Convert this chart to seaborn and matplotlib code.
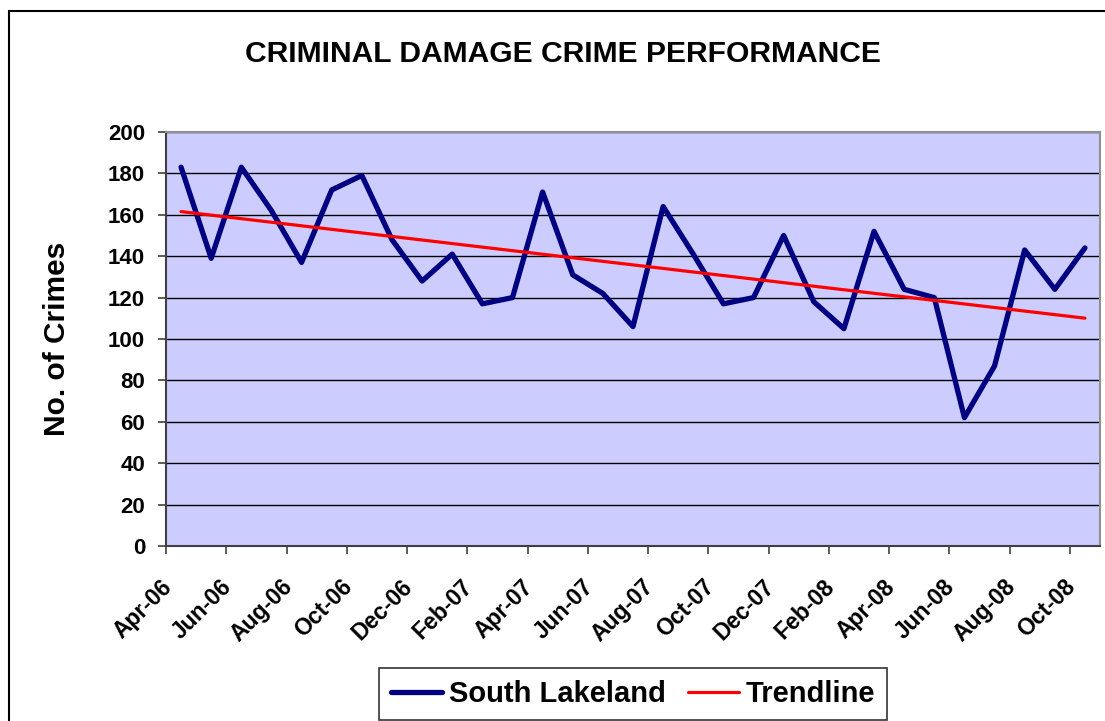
import numpy as np
import pandas as pd
import matplotlib
matplotlib.use("Agg")
import matplotlib.pyplot as plt
from matplotlib.patches import Rectangle
import seaborn as sns

# Monthly criminal damage crimes, South Lakeland (Apr-06 .. Oct-08)
months = pd.date_range("2006-04-01", "2008-10-01", freq="MS").strftime("%b-%y").tolist()
crimes = [183, 139, 183, 162, 137, 172, 179, 148, 128, 141, 117, 120, 171, 131, 122, 106,
          164, 141, 117, 120, 150, 118, 105, 152, 124, 120, 62, 87, 143, 124, 144]
y_ticks = [0, 20, 40, 60, 80, 100, 120, 140, 160, 180, 200]

# Excel style linear trendline
idx = np.arange(len(months))
slope, intercept = np.polyfit(idx, crimes, 1)
trend = intercept + slope * idx

df = pd.DataFrame({"idx": idx, "month": months, "crimes": crimes, "trend": trend})

sns.set_style("white")
plt.rcParams["font.family"] = ["Liberation Sans", "DejaVu Sans"]
plt.rcParams["font.weight"] = "bold"
for key in ["text.color", "axes.labelcolor", "xtick.color", "ytick.color"]:
    plt.rcParams[key] = "black"

W, H = 1105, 721
fig = plt.figure(figsize=(W / 100, H / 100), dpi=100)
ax = fig.add_axes([166 / W, 1 - 546 / H, 934 / W, 414 / H])
ax.set_facecolor("#CCCCFF")

sns.lineplot(data=df, x="idx", y="crimes", ax=ax, color="#000080", lw=3.8,
             label="South Lakeland", zorder=3)
sns.lineplot(data=df, x="idx", y="trend", ax=ax, color="#FF0000", lw=2.3,
             label="Trendline", zorder=4)

ax.set_xlim(-0.5, len(months) - 0.5)
ax.set_ylim(0, 200)
ax.set_yticks(y_ticks)
ax.set_yticklabels([str(v) for v in y_ticks], fontsize=16, fontweight="bold")
ax.yaxis.grid(True, color="black", lw=1.0, zorder=1)
ax.set_axisbelow(True)

# tick marks between categories, labels every other month
ax.set_xticks(np.arange(-0.5, len(months), 2))
ax.set_xticklabels([])
ax.set_xticks(idx[::2] - 0.43, minor=True)
ax.set_xticklabels(months[::2], minor=True, rotation=45, ha="right", va="center",
                   rotation_mode="anchor", fontsize=16.5, fontweight="bold")
ax.tick_params(axis="x", which="major", direction="out", length=6, width=1.2,
               color="#404040", bottom=True)
ax.tick_params(axis="x", which="minor", length=0, pad=27)
ax.tick_params(axis="y", direction="out", length=6, width=1.2, color="#404040",
               left=True, pad=9)

ax.set_xlabel("")
ax.set_ylabel("No. of Crimes", fontsize=21.5, fontweight="bold", labelpad=27)

for side in ["left", "bottom"]:
    ax.spines[side].set_color("#404040")
    ax.spines[side].set_linewidth(1.5)
for side in ["top", "right"]:
    ax.spines[side].set_color("#909090")
    ax.spines[side].set_linewidth(1.5)

fig.text(563 / W, 1 - 54 / H, "CRIMINAL DAMAGE CRIME PERFORMANCE", ha="center",
         va="center", fontsize=21.6, fontweight="bold")

ax.legend_.remove()
handles, labels = ax.get_legend_handles_labels()
leg = fig.legend(handles, labels, loc="center", bbox_to_anchor=(633 / W, 1 - 694 / H),
                 ncol=2, frameon=True, fancybox=False, edgecolor="black",
                 prop={"size": 21, "weight": "bold"}, handlelength=1.75,
                 handletextpad=0.25, columnspacing=0.75, borderpad=0.4,
                 borderaxespad=0)
leg.get_frame().set_linewidth(1.2)

# chart area border (cropped on the right and bottom)
fig.add_artist(Rectangle((8.5 / W, -0.1), 1.2, 1 - 11 / H + 0.1,
                         transform=fig.transFigure, fill=False, ec="black", lw=1.5))

fig.savefig("out.png", dpi=100)
